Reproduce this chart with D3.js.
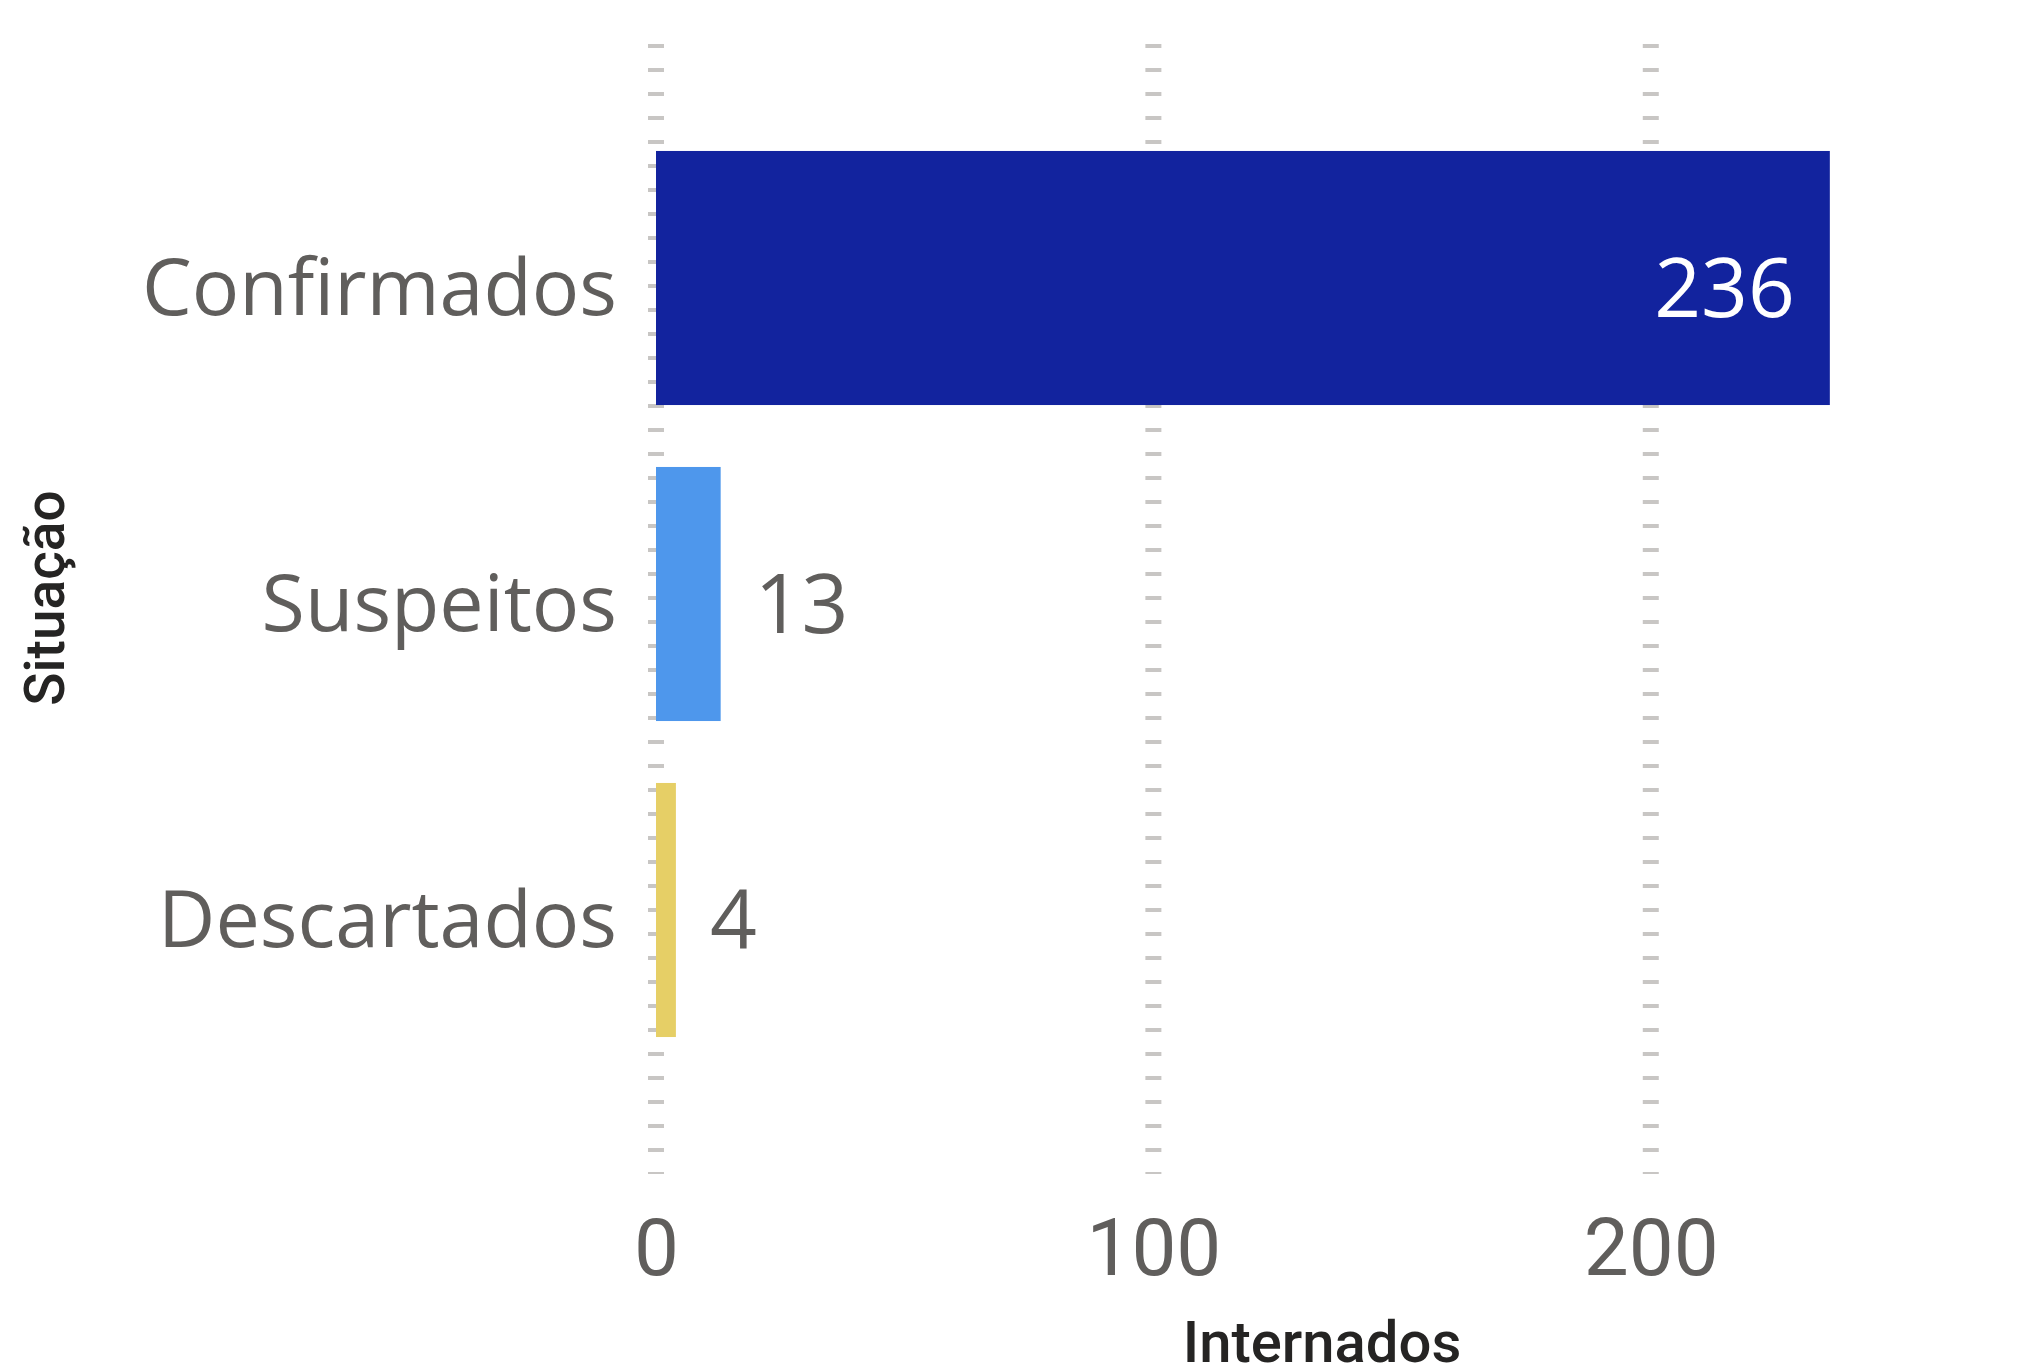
<!DOCTYPE html>
<html>
<head>
<meta charset="utf-8">
<script src="https://cdn.jsdelivr.net/npm/d3@7"></script>
<style>
  body { margin: 0; background: #ffffff; }
  .cat { font-family: "Open Sans", "Noto Sans", sans-serif; fill: #605E5C; }
  .din { font-family: Roboto, "DejaVu Sans", sans-serif; }
</style>
</head>
<body>
<div id="chart"></div>
<script>
// data
const categories = ["Confirmados", "Suspeitos", "Descartados"];
const internados = [236, 13, 4];
const barColors = ["#12239E", "#4E97EC", "#E6CF66"];
const xTicks = [0, 100, 200];

const W = 2029, H = 1372;

const svg = d3.select("#chart")
  .append("svg")
    .attr("width", W)
    .attr("height", H);

const x = d3.scaleLinear()
  .domain([0, 268])
  .range([656, 1989]);

const y = d3.scaleBand()
  .domain(categories)
  .range([120, 1068])
  .paddingInner(0.196)
  .paddingOuter(0.098);

// dashed gridlines
svg.append("g")
  .selectAll("line")
  .data(xTicks)
  .enter()
  .append("line")
    .attr("x1", d => x(d))
    .attr("x2", d => x(d))
    .attr("y1", 44)
    .attr("y2", 1174)
    .attr("stroke", "#C8C6C4")
    .attr("stroke-width", 16)
    .attr("stroke-dasharray", "4,20");

// bars
svg.selectAll("rect.bar")
  .data(categories)
  .enter()
  .append("rect")
    .attr("class", "bar")
    .attr("x", x(0))
    .attr("y", d => y(d))
    .attr("width", (d, i) => x(internados[i]) - x(0))
    .attr("height", y.bandwidth())
    .attr("fill", (d, i) => barColors[i]);

// category labels
svg.selectAll("text.cat")
  .data(categories)
  .enter()
  .append("text")
    .attr("class", "cat")
    .attr("x", x(0) - 39)
    .attr("y", d => y(d) + y.bandwidth() / 2 + 37)
    .attr("text-anchor", "end")
    .style("font-size", "79px")
    .text(d => d);

// value labels (inside for the big bar)
svg.selectAll("text.val")
  .data(categories)
  .enter()
  .append("text")
    .attr("class", "cat")
    .attr("x", (d, i) => internados[i] > 100 ? x(internados[i]) - 35 : x(internados[i]) + 34)
    .attr("y", d => y(d) + y.bandwidth() / 2 + 39)
    .attr("text-anchor", (d, i) => internados[i] > 100 ? "end" : "start")
    .style("font-size", "82px")
    .style("fill", (d, i) => internados[i] > 100 ? "#ffffff" : "#605E5C")
    .text((d, i) => internados[i]);

// x axis tick labels
const xAxis = svg.append("g")
  .attr("transform", "translate(0,1275)")
  .call(d3.axisBottom(x).tickValues(xTicks).tickSize(0).tickPadding(0));
xAxis.select(".domain").remove();
xAxis.selectAll("text")
  .attr("class", "din")
  .attr("dy", 0)
  .style("font-size", "80px")
  .style("fill", "#605E5C");

// axis titles
svg.append("text")
  .attr("class", "din")
  .attr("x", 1322)
  .attr("y", 1362)
  .attr("text-anchor", "middle")
  .style("font-size", "58px")
  .style("font-weight", 500)
  .style("fill", "#252423")
  .text("Internados");

svg.append("text")
  .attr("class", "din")
  .attr("transform", "translate(64,598) rotate(-90)")
  .attr("text-anchor", "middle")
  .style("font-size", "55px")
  .style("font-weight", 500)
  .style("fill", "#252423")
  .text("Situação");
</script>
</body>
</html>
